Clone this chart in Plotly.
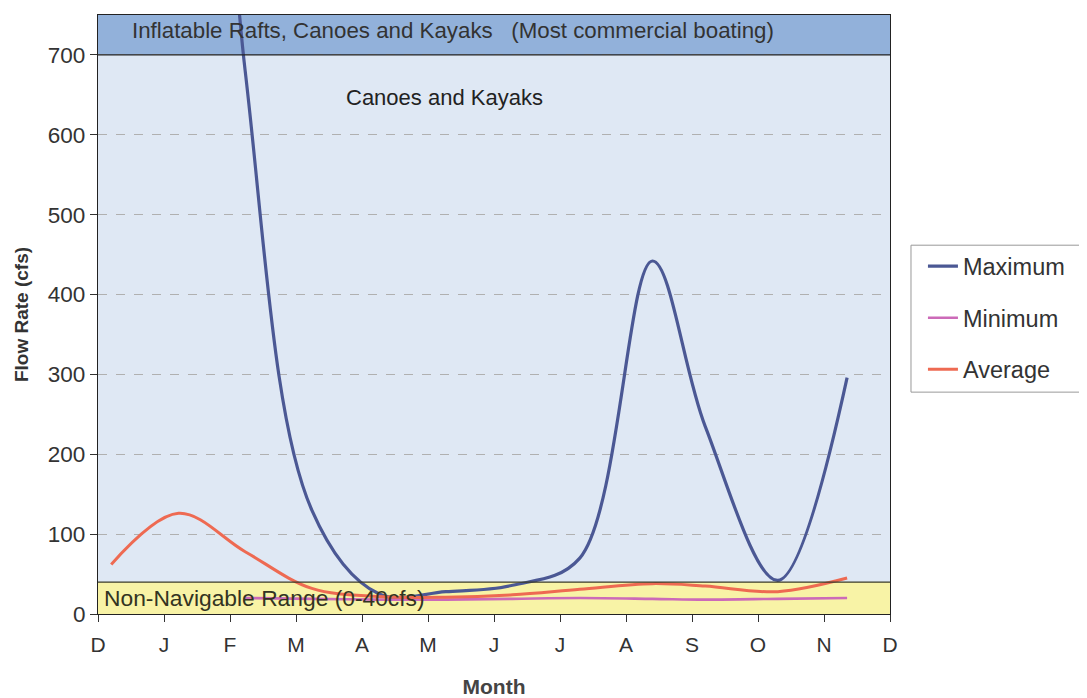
import plotly.graph_objects as go

# Data (x positions in months from the first December tick)
months_pos = [0.2, 1.22, 2.23, 3.24, 4.26, 5.27, 6.28, 7.3, 8.4, 9.2, 10.3, 11.35]
maximum = [1300, 1700, 680, 130, 25, 28, 36, 70, 442, 235, 42, 296]
minimum = [None, None, 20, 19, 18, 18, 19, 20, 19, 18, 19, 20]
average = [62, 126, 78, 32, 22, 21, 24, 31, 38, 35, 28, 45]

tick_vals = list(range(13))
tick_text = ["D", "J", "F", "M", "A", "M", "J", "J", "A", "S", "O", "N", "D"]

band_low = 40
band_high = 700
y_max = 750

FONT = "Liberation Sans, Arial, sans-serif"

fig = go.Figure()

fig.add_trace(go.Scatter(x=months_pos, y=maximum, name="Maximum", mode="lines",
                         line=dict(color="#4b5894", width=3.2, shape="spline"),
                         legendgroup="a"))
fig.add_trace(go.Scatter(x=months_pos, y=minimum, name="Minimum", mode="lines",
                         line=dict(color="#cc6ab8", width=2.6, shape="spline"),
                         legendgroup="b"))
fig.add_trace(go.Scatter(x=months_pos, y=average, name="Average", mode="lines",
                         line=dict(color="#ee6a52", width=3, shape="spline"),
                         legendgroup="c"))

shapes = [
    dict(type="rect", xref="paper", yref="y", x0=0, x1=1, y0=0, y1=band_low,
         fillcolor="#f8f3a6", line=dict(width=0), layer="below"),
    dict(type="rect", xref="paper", yref="y", x0=0, x1=1, y0=band_low, y1=band_high,
         fillcolor="#dfe8f4", line=dict(width=0), layer="below"),
    dict(type="rect", xref="paper", yref="y", x0=0, x1=1, y0=band_high, y1=y_max,
         fillcolor="#92b1da", line=dict(width=0), layer="below"),
    dict(type="line", xref="paper", yref="y", x0=0, x1=1, y0=band_low, y1=band_low,
         line=dict(color="#3a3a2a", width=1.2)),
    dict(type="line", xref="paper", yref="y", x0=0, x1=1, y0=band_high, y1=band_high,
         line=dict(color="#222222", width=1.2)),
    # legend frame (runs off the right edge as in the original)
    dict(type="rect", xref="paper", yref="paper", x0=1.0265, x1=1.27, y0=0.3704, y1=0.6157,
         line=dict(color="#999999", width=1), fillcolor="white", layer="below"),
]

annotations = [
    dict(x=0.48, y=731, xref="x", yref="y", xanchor="left", yanchor="middle",
         text="Inflatable Rafts, Canoes and Kayaks   (Most commercial boating)",
         showarrow=False, font=dict(family=FONT, size=22.3, color="#333333")),
    dict(x=3.73, y=647, xref="x", yref="y", xanchor="left", yanchor="middle",
         text="Canoes and Kayaks", showarrow=False,
         font=dict(family=FONT, size=22, color="#222222")),
    dict(x=0.06, y=20, xref="x", yref="y", xanchor="left", yanchor="middle",
         text="Non-Navigable Range (0-40cfs)", showarrow=False,
         font=dict(family=FONT, size=22.8, color="#333322")),
]

fig.update_layout(
    width=1087, height=698,
    margin=dict(l=90, r=205, t=7, b=92),
    paper_bgcolor="white", plot_bgcolor="#dfe8f4",
    font=dict(family=FONT, size=21, color="#333333"),
    shapes=shapes, annotations=annotations,
    showlegend=True,
    legend=dict(x=1.0416, y=0.617, xanchor="left", yanchor="top",
                bgcolor="rgba(0,0,0,0)", borderwidth=0,
                font=dict(family=FONT, size=23.5, color="#333333"),
                tracegroupgap=18, itemwidth=30),
)

fig.update_xaxes(range=[0, 12], tickmode="array", tickvals=tick_vals, ticktext=tick_text,
                 showgrid=False, zeroline=False, showline=True, linecolor="#222222",
                 linewidth=1.2, mirror=True, ticks="outside", ticklen=7,
                 tickcolor="#333333", tickfont=dict(size=21, color="#333333"),
                 ticklabelstandoff=5,
                 title=dict(text="<b>Month</b>", font=dict(size=21, color="#444444"),
                            standoff=24))
fig.update_yaxes(range=[0, y_max], tickmode="array", tickvals=[0, 100, 200, 300, 400, 500, 600, 700],
                 showgrid=True, gridcolor="#b0b0b0", griddash="dash", gridwidth=0.8,
                 zeroline=False, showline=True, linecolor="#222222", linewidth=1.2,
                 mirror=True, ticks="outside", ticklen=7, tickcolor="#333333",
                 tickfont=dict(size=22.5, color="#333333"),
                 title=dict(text="<b>Flow Rate (cfs)</b>", font=dict(size=19, color="#333333"),
                            standoff=14))

fig.write_html("out.html")
